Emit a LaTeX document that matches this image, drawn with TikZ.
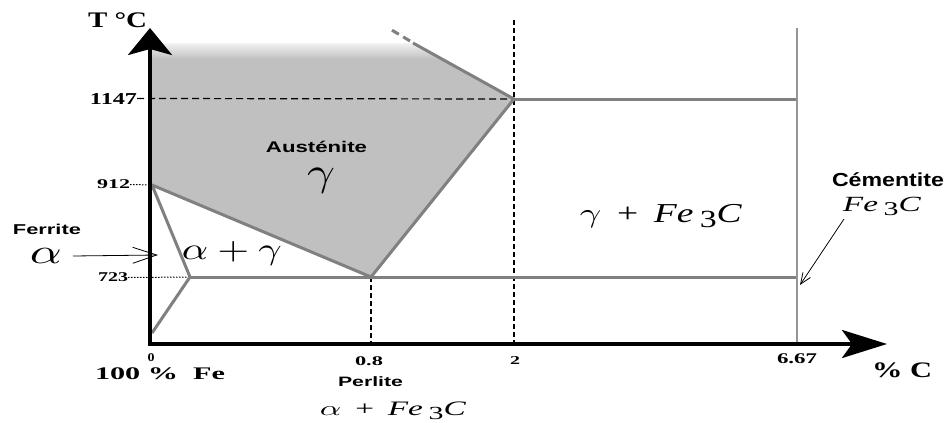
\documentclass[tikz,border=0pt]{standalone}
\usepackage{fontspec}
\setmainfont{Liberation Serif}
\newfontfamily\lsans{Liberation Sans}
\usepackage{graphicx}
\usetikzlibrary{arrows.meta}
\definecolor{gfill}{HTML}{C0C0C0}
\definecolor{gline}{HTML}{808080}
\definecolor{gvert}{HTML}{959595}
\newcommand{\fitbox}[3]{\resizebox*{#1pt}{#2pt}{#3}}
\newcommand{\fethreec}{\textit{Fe}\,\raisebox{-0.45ex}{\small 3}\textit{C}}
\begin{document}
\begin{tikzpicture}[x=1pt,y=-1pt,
  lab/.style={inner sep=0pt,outer sep=0pt,anchor=center},
  bline/.style={gline,line width=3pt,line join=round},
  dashblk/.style={black,line width=1.2pt,dash pattern=on 7pt off 4pt},
  dashv/.style={black,line width=1.3pt,dash pattern=on 5pt off 3pt},
  dotblk/.style={black,line width=1pt,dash pattern=on 1.5pt off 1.5pt},
  thinarrow/.style={black,line width=0.8pt}]
\useasboundingbox (0,0) rectangle (946,423);
\fill[white] (0,0) rectangle (946,423);
% key points
\coordinate (org) at (150,344);
\coordinate (ytip) at (150,28);
\coordinate (xtip) at (887,344);
\coordinate (tl) at (150,43);
\coordinate (tr) at (413,43);
\coordinate (eut) at (514,99);
\coordinate (eoid) at (371,277);
\coordinate (a3) at (152,185);
\coordinate (a1) at (190,277);
\coordinate (fb) at (152,333);
\coordinate (c1147) at (797,99);
\coordinate (c723) at (797,277);
\coordinate (ctop) at (797,28);
\coordinate (cbot) at (797,344);
\coordinate (dtwotop) at (514,20);
\coordinate (dtwobot) at (514,344);
\coordinate (deoidbot) at (371,344);
\coordinate (liqa) at (410,41);
\coordinate (liqb) at (390,29);
\coordinate (ftip) at (158,255);
\coordinate (cstart) at (844,219);
\coordinate (ctip) at (800,285);
% austenite region
\begin{scope}
  \clip (tl) -- (tr) -- (eut) -- (eoid) -- (a3) -- (150,185) -- cycle;
  \fill[gfill] (140,30) rectangle (530,290);
  \foreach \i in {0,...,17}{
    \pgfmathtruncatemacro\p{15+85*\i/17}
    \fill[gfill!\p!white] (140,42+\i) rectangle (530,43.2+\i);
  }
\end{scope}
% labels
\node[lab] (tc) at (117.5,20.5) {\fitbox{59}{15}{\bfseries T °C}};
\node[lab] (l1147) at (113.5,98.5) {\fitbox{47}{11}{\bfseries 1147}};
\node[lab] (l912) at (113.5,184.5) {\fitbox{33}{9}{\bfseries 912}};
\node[lab] (l723) at (113,277.5) {\fitbox{30}{9}{\bfseries 723}};
\node[lab] (l0) at (151,358) {\fitbox{7}{8}{\bfseries 0}};
\node[lab] (lfe) at (160,374) {\fitbox{130}{12}{\bfseries 100 \% \ Fe}};
\node[lab] (l08) at (369,361.5) {\fitbox{28}{9}{\bfseries 0.8}};
\node[lab] (l2) at (515,360) {\fitbox{10}{8}{\bfseries 2}};
\node[lab] (l667) at (797,359) {\fitbox{40}{10}{\bfseries 6.67}};
\node[lab] (lc) at (902,370.5) {\fitbox{60}{15}{\bfseries \% C}};
\node[lab] (perl) at (370.5,382) {\fitbox{65}{10}{\lsans\bfseries Perlite}};
\node[lab] (perlf) at (393,410.5) {\fitbox{146}{18}{$\alpha$ \,+\, \fethreec}};
\node[lab] (aust) at (316.5,146.5) {\fitbox{101}{11.5}{\lsans\bfseries Austénite}};
\node[lab] (gam) at (321,181) {\fitbox{28}{25}{$\gamma$}};
\node[lab] (ferr) at (47,229.5) {\fitbox{68}{10.5}{\lsans\bfseries Ferrite}};
\node[lab] (alf) at (46,256) {\fitbox{32}{15}{$\alpha$}};
\node[lab] (ag) at (232,253) {\fitbox{100}{24}{$\alpha+\gamma$}};
\node[lab] (gfe) at (661,216) {\fitbox{162}{24}{$\gamma$ \,+\, \fethreec}};
\node[lab] (cem) at (888,180) {\fitbox{112}{14}{\lsans\bfseries Cémentite}};
\node[lab] (cemf) at (882,206.5) {\fitbox{78}{19}{\fethreec}};
% reference lines
\draw[dashblk] (l1147.east) -- (eut);
\draw[dashv] (dtwotop) -- (dtwobot);
\draw[dashv] (eoid) -- (deoidbot);
\draw[dotblk] (l912.east) -- (a3);
\draw[dotblk] (l723.east) -- (a1);
% phase boundaries
\draw[bline] (tr) -- (eut) -- (eoid) -- (a3) -- (a1) -- (fb);
\draw[bline] (a1) -- (c723);
\draw[bline] (eut) -- (c1147);
\draw[gline,line width=3pt,dash pattern=on 8pt off 5pt] (liqa) -- (liqb);
\draw[gvert,line width=2pt] (ctop) -- (cbot);
% axes
\draw[line width=4pt,line join=miter,
  {Stealth[length=27pt,width=44pt,inset=6pt]}-{Stealth[length=45pt,width=28pt,inset=10pt]}]
  (ytip) -- (org) -- (xtip);
% pointer arrows
\draw[thinarrow,-{Straight Barb[length=24pt,width=16pt]}] ([xshift=11pt]alf.east) -- (ftip);
\draw[thinarrow,-{Straight Barb[length=11pt,width=9pt]}] (cstart) -- (ctip);
\end{tikzpicture}
\end{document}
